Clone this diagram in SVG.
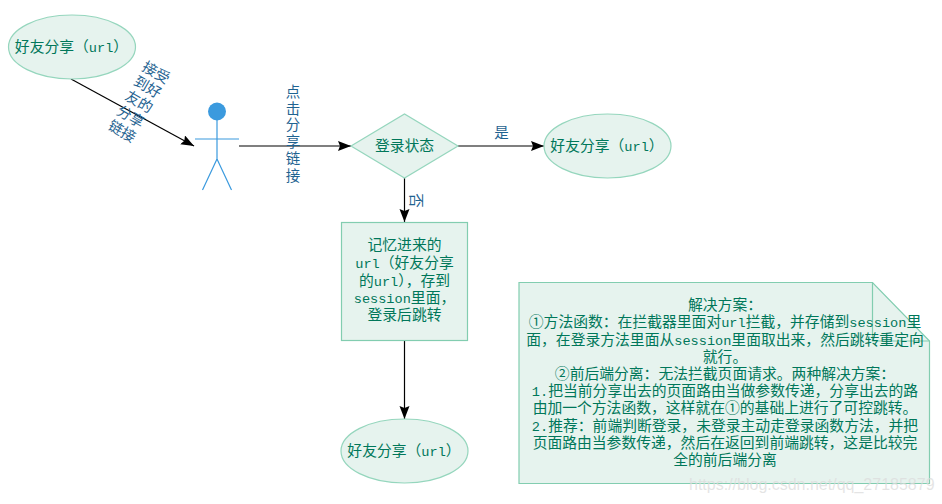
<svg xmlns="http://www.w3.org/2000/svg" width="942" height="504" viewBox="0 0 942 504">
<style>
.s{fill:#e6f3ee;stroke:#95d6bd;stroke-width:1.2}
.r{fill:#e6f3ee;stroke:#82cdb0;stroke-width:1.2}
.t{font-family:"Noto Sans CJK SC","DejaVu Sans",sans-serif;font-size:14.8px;fill:#00775a;text-anchor:middle}
.t tspan{font-family:"Liberation Mono",monospace;font-size:13.6px}
.l{font-family:"Noto Sans CJK SC",sans-serif;font-size:14.5px;fill:#1f6391;text-anchor:middle}
.c{fill:none;stroke:#000;stroke-width:1.2}
.a{stroke:#3b9ade;stroke-width:1.2;fill:none}
</style>
<defs><marker id="m" markerUnits="userSpaceOnUse" markerWidth="14" markerHeight="12" refX="13" refY="5" orient="auto"><path d="M0 0L13 5L0 10L2 5Z" fill="#000"/></marker></defs>
<g id="connectors">
<path class="c" d="M71 79L194 146" marker-end="url(#m)"/>
<path class="c" d="M239 146H351" marker-end="url(#m)"/>
<path class="c" d="M458 146H544" marker-end="url(#m)"/>
<path class="c" d="M404.500 178V222" marker-end="url(#m)"/>
<path class="c" d="M404.500 340V419" marker-end="url(#m)"/>
</g>
<g id="edge-labels">
<g transform="rotate(30 139 102)">
<text class="l" x="139" y="73">接受</text><text class="l" x="139" y="90">到好</text><text class="l" x="139" y="107">友的</text><text class="l" x="139" y="124">分享</text><text class="l" x="139" y="141">链接</text></g>
<text class="l" x="293" y="97">点</text><text class="l" x="293" y="113.500">击</text><text class="l" x="293" y="130">分</text><text class="l" x="293" y="147">享</text><text class="l" x="293" y="164">链</text><text class="l" x="293" y="180.500">接</text>
<text class="l" x="501.500" y="138">是</text>
<text class="l" transform="translate(416 200.500) rotate(90)" x="0" y="5">否</text>
</g>
<g id="n1"><ellipse class="s" cx="72" cy="47" rx="63.500" ry="32"/><text class="t" x="71.500" y="52">好友分享（<tspan>url</tspan>）</text></g>
<g id="actor"><circle cx="217" cy="111.500" r="9" fill="#3b9ade"/><path class="a" d="M217 120V159M195 139H239M217 159L202.500 190M217 159L231.500 190"/></g>
<g id="decision"><path class="s" d="M351 146L404.500 114L458 146L404.500 178Z"/><text class="t" x="404.500" y="151">登录状态</text></g>
<g id="n2"><ellipse class="s" cx="607.500" cy="146" rx="63.500" ry="32"/><text class="t" x="607" y="151">好友分享（<tspan>url</tspan>）</text></g>
<g id="store"><rect class="r" x="341.500" y="222.500" width="126" height="118"/>
<text class="t" x="404.500" y="250">记忆进来的</text><text class="t" x="404.500" y="268"><tspan>url</tspan>（好友分享</text><text class="t" x="404.500" y="285.500">的<tspan>url</tspan>），存到</text><text class="t" x="404.500" y="303"><tspan>session</tspan>里面，</text><text class="t" x="404.500" y="320">登录后跳转</text></g>
<g id="n3"><ellipse class="s" cx="404.500" cy="451" rx="63.500" ry="32"/><text class="t" x="404" y="456">好友分享（<tspan>url</tspan>）</text></g>
<g id="note"><path class="r" d="M519 282.500H872.500L929.500 341V483.500H519Z"/><path class="r" style="fill:none" d="M872.500 282.500V341H929.500"/>
<text class="t" x="725" y="310">解决方案：</text>
<text class="t" x="725" y="327">①方法函数：在拦截器里面对<tspan>url</tspan>拦截，并存储到<tspan>session</tspan>里</text>
<text class="t" x="725" y="344.500">面，在登录方法里面从<tspan>session</tspan>里面取出来，然后跳转重定向</text>
<text class="t" x="725" y="361.500">就行。</text>
<text class="t" x="725" y="379">②前后端分离：无法拦截页面请求。两种解决方案：</text>
<text class="t" x="725" y="396"><tspan>1.</tspan>把当前分享出去的页面路由当做参数传递，分享出去的路</text>
<text class="t" x="725" y="413">由加一个方法函数，这样就在①的基础上进行了可控跳转。</text>
<text class="t" x="725" y="431"><tspan>2.</tspan>推荐：前端判断登录，未登录主动走登录函数方法，并把</text>
<text class="t" x="725" y="448">页面路由当参数传递，然后在返回到前端跳转，这是比较完</text>
<text class="t" x="725" y="465">全的前后端分离</text></g>
<text x="689" y="490" font-family="Liberation Sans,sans-serif" font-size="16" fill="#dcdcdc" fill-opacity=".75">https://blog.csdn.net/qq_27185879</text>
</svg>
